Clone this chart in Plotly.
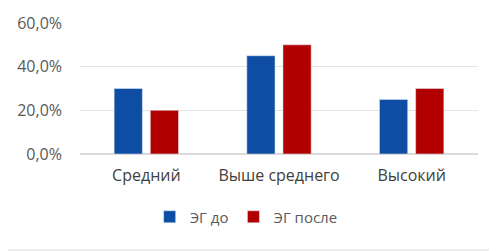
import plotly.graph_objects as go

categories = ["Средний", "Выше среднего", "Высокий"]
eg_before = [0.30, 0.45, 0.25]
eg_after = [0.20, 0.50, 0.30]
series_names = ["ЭГ до", "ЭГ после"]
tick_vals = [0, 0.2, 0.4, 0.6]
tick_text = ["0,0%", "20,0%", "40,0%", "60,0%"]

# the page puts the figure 8px in from the top-left corner
OFF = 8
W, H = 497 - OFF, 251 - OFF
L, R, T, B = 80 - OFF, 19, 23 - OFF, 97
PW, PH = W - L - R, H - T - B

fig = go.Figure()
fig.add_trace(go.Bar(x=categories, y=eg_before, name=series_names[0], marker_color="#0E4DA4"))
fig.add_trace(go.Bar(x=categories, y=eg_after, name=series_names[1], marker_color="#B20000"))

def px_x(p):
    return (p - OFF - L) / PW

def px_y(p):
    return (H - B - (p - OFF)) / PH

fig.update_layout(
    width=W, height=H,
    margin=dict(l=L, r=R, t=T, b=B, autoexpand=False),
    paper_bgcolor="white", plot_bgcolor="white",
    barmode="group", bargap=0.455, bargroupgap=0.22,
    font=dict(family="Open Sans, Liberation Sans, sans-serif", size=16, color="#595959"),
    showlegend=True,
    legend=dict(orientation="h", x=0.487, xanchor="center", xref="container",
                y=(251 - 217) / H, yanchor="middle", yref="container",
                font=dict(size=15, color="#595959"), traceorder="normal",
                itemwidth=30, tracegroupgap=0),
    xaxis=dict(showgrid=False, showline=False, ticks="", automargin=False,
               ticklabelstandoff=10, tickfont=dict(size=16, color="#404040")),
    yaxis=dict(range=[0, 0.6], tickvals=tick_vals, ticktext=tick_text, showgrid=True,
               gridcolor="#E3E3E3", gridwidth=1, zeroline=True, zerolinecolor="#DADADA",
               showline=False, ticks="", automargin=False, ticklabelstandoff=17,
               tickfont=dict(size=16, color="#595959")),
)
fig.add_shape(type="rect", xref="x domain", yref="y domain", x0=px_x(8), x1=px_x(497),
              y0=px_y(251), y1=px_y(249), line=dict(width=0), fillcolor="#EEEEEE", layer="below")

fig.write_html("out.html")
